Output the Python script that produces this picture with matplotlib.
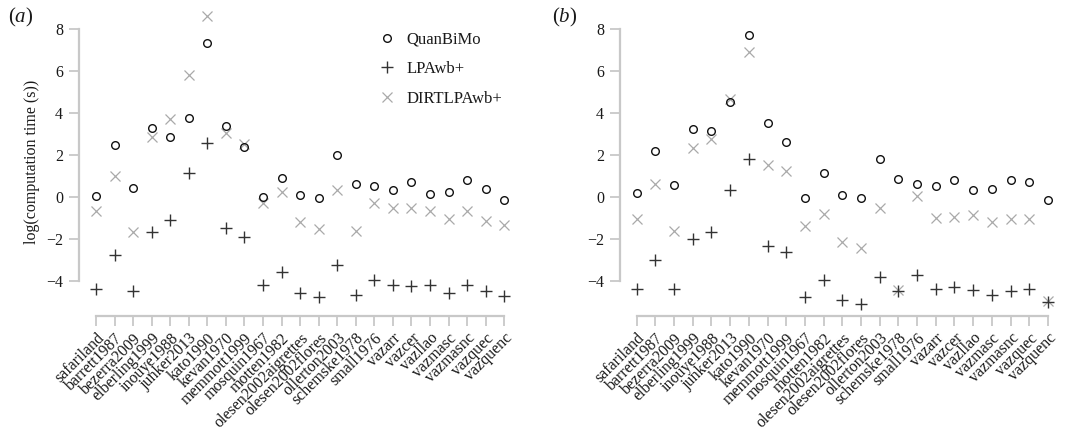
import matplotlib
matplotlib.use("Agg")
import matplotlib.pyplot as plt
import numpy as np

plt.rcParams['font.family'] = ['Liberation Serif', 'DejaVu Serif']
plt.rcParams['mathtext.fontset'] = 'custom'
plt.rcParams['mathtext.rm'] = 'Liberation Serif'
plt.rcParams['mathtext.it'] = 'Liberation Serif:italic'

networks = ["safariland", "barrett1987", "bezerra2009", "elberling1999", "inouye1988",
            "junker2013", "kato1990", "kevan1970", "memmott1999", "mosquin1967",
            "motten1982", "olesen2002aigrettes", "olesen2002flores", "ollerton2003",
            "schemske1978", "small1976", "vazarr", "vazcer", "vazllao", "vazmasc",
            "vazmasnc", "vazquec", "vazquenc"]

# panel (a)
quanbimo_a = [0.05, 2.44, 0.40, 3.27, 2.84, 3.75, 7.33, 3.38, 2.37, 0.00, 0.87, 0.06,
              -0.08, 1.98, 0.59, 0.52, 0.30, 0.68, 0.11, 0.24, 0.79, 0.35, -0.16]
lpawb_a = [-4.40, -2.79, -4.48, -1.68, -1.10, 1.11, 2.57, -1.49, -1.94, -4.21, -3.57,
           -4.60, -4.79, -3.27, -4.68, -3.97, -4.22, -4.25, -4.19, -4.60, -4.20, -4.49, -4.73]
dirt_a = [-0.67, 1.00, -1.68, 2.84, 3.70, 5.79, 8.60, 3.05, 2.51, -0.29, 0.24, -1.19,
          -1.54, 0.32, -1.62, -0.30, -0.54, -0.52, -0.68, -1.08, -0.67, -1.16, -1.37]

# panel (b)
quanbimo_b = [0.19, 2.19, 0.54, 3.24, 3.13, 4.52, 7.70, 3.52, 2.59, -0.06, 1.11, 0.10,
              -0.06, 1.78, 0.83, 0.62, 0.52, 0.79, 0.30, 0.37, 0.78, 0.71, -0.17]
lpawb_b = [-4.41, -3.03, -4.41, -2.03, -1.67, 0.30, 1.81, -2.37, -2.62, -4.76, -3.97,
           -4.92, -5.12, -3.84, -4.47, -3.75, -4.38, -4.29, -4.44, -4.70, -4.48, -4.38, -5.03]
dirt_b = [-1.06, 0.62, -1.63, 2.33, 2.76, 4.63, 6.89, 1.51, 1.24, -1.38, -0.84, -2.14,
          -2.46, -0.54, -4.45, 0.05, -1.02, -0.95, -0.89, -1.19, -1.08, -1.05, -4.95]

yticks = [-4, -2, 0, 2, 4, 6, 8]
series_labels = ["QuanBiMo", "LPAwb+", "DIRTLPAwb+"]

W, H = 1065, 436
fig = plt.figure(figsize=(W / 100, H / 100), dpi=100)

spine_col = '#c8c8c8'
text_col = '#1a1a1a'


def make_ax(left_px, right_px, xlim):
    bottom_px = 315.7
    top_px = 7.7
    ax = fig.add_axes([left_px / W, (H - bottom_px) / H,
                       (right_px - left_px) / W, (bottom_px - top_px) / H])
    ax.set_xlim(*xlim)
    ax.set_ylim(-5.67, 9.0)
    return ax


def style(ax, ylabel=None):
    for s in ['top', 'right']:
        ax.spines[s].set_visible(False)
    for s in ['left', 'bottom']:
        ax.spines[s].set_color(spine_col)
        ax.spines[s].set_linewidth(1.6)
    ax.spines['left'].set_bounds(-4, 8)
    ax.spines['bottom'].set_bounds(0, len(networks) - 1)
    ax.set_yticks(yticks)
    ax.set_yticklabels(['\u2212%d' % abs(t) if t < 0 else '%d' % t for t in yticks])
    ax.set_xticks(np.arange(len(networks)))
    ax.set_xticklabels(networks, rotation=45, ha='right', rotation_mode='anchor')
    ax.tick_params(axis='both', colors=spine_col, length=7.5, width=1.3,
                   labelcolor=text_col, labelsize=11.5)
    ax.tick_params(axis='y', pad=4)
    ax.tick_params(axis='x', pad=3)
    if ylabel:
        ax.set_ylabel(ylabel, fontsize=11.5, color=text_col, labelpad=4)
    ax.patch.set_visible(False)


def draw(ax, q, l, d):
    x = np.arange(len(networks))
    h3, = ax.plot(x, d, linestyle='none', marker='x', markersize=6.5,
                  markeredgewidth=0.9, color='#aaaaaa', label=series_labels[2])
    h2, = ax.plot(x, l, linestyle='none', marker='+', markersize=8.5,
                  markeredgewidth=1.0, color='#333333', label=series_labels[1])
    h1, = ax.plot(x, q, linestyle='none', marker='o', markersize=5.5,
                  markeredgewidth=1.0, markerfacecolor='none', color='#111111',
                  label=series_labels[0])
    return h1, h2, h3


ax_a = make_ax(79, 515, (-0.92, 22.58))
style(ax_a, ylabel='log(computation time (s))')
handles = draw(ax_a, quanbimo_a, lpawb_a, dirt_a)
leg = ax_a.legend(handles=handles, loc='upper left', bbox_to_anchor=(377 / W, 1 - 31.5 / H),
                  bbox_transform=fig.transFigure, frameon=False, fontsize=12,
                  handlelength=1.2, handletextpad=0.55, labelspacing=0.83,
                  borderpad=0, borderaxespad=0)
for t in leg.get_texts():
    t.set_color(text_col)

ax_b = make_ax(620, 1062, (-0.89, 22.75))
style(ax_b)
draw(ax_b, quanbimo_b, lpawb_b, dirt_b)

fig.text(8 / W, 1 - 17 / H, r'$(\mathit{a})$', fontsize=15, va='center', ha='left', color=text_col)
fig.text(552 / W, 1 - 17 / H, r'$(\mathit{b})$', fontsize=15, va='center', ha='left', color=text_col)

fig.savefig('out.png', dpi=100)
